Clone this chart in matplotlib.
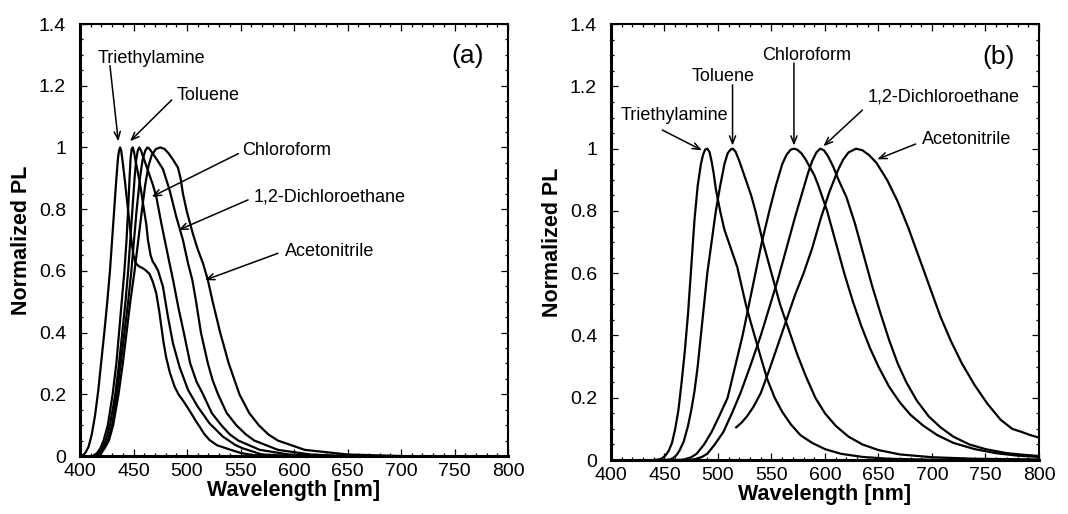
import matplotlib
matplotlib.use("Agg")
import matplotlib.pyplot as plt
from matplotlib.ticker import MultipleLocator, FuncFormatter

plt.rcParams['font.family'] = ['Liberation Sans', 'DejaVu Sans']

solvents = ["Triethylamine", "Toluene", "Chloroform", "1,2-Dichloroethane", "Acetonitrile"]

# ---- panel (a) ----
wl_a_tea = [402, 405, 408, 411, 414, 417, 420, 423, 425.5, 428, 430, 432, 434, 435.5, 436.5, 437.5, 438.5, 440,
            442, 444.8, 448, 450, 452, 455, 459, 462, 465, 468, 471.3, 474, 476, 478, 480.5, 484, 488.4, 492,
            496.2, 500, 504, 508, 511.8, 516, 521, 528, 536.5, 550, 561.5, 580]
pl_a_tea = [0, 0.01, 0.03, 0.07, 0.13, 0.21, 0.31, 0.41, 0.5, 0.6, 0.7, 0.8, 0.9, 0.965, 0.99, 1.0, 0.99, 0.95,
            0.89, 0.8, 0.7, 0.65, 0.625, 0.615, 0.608, 0.6, 0.59, 0.565, 0.527, 0.47, 0.42, 0.37, 0.32, 0.27,
            0.225, 0.2, 0.18, 0.16, 0.138, 0.115, 0.095, 0.072, 0.052, 0.035, 0.025, 0.01, 0.003, 0]

wl_a_tol = [412, 416, 419, 422, 426, 430.5, 434, 436.5, 439, 441.5, 443.5, 445, 446.3, 447.3, 448.3, 449.3, 450.5,
            452, 455.7, 458.8, 462, 463.5, 466, 468, 470, 473, 477.5, 482.2, 486.9, 493, 501, 510, 521, 533.5,
            545, 552, 570, 600]
pl_a_tol = [0, 0.01, 0.025, 0.05, 0.1, 0.2, 0.3, 0.4, 0.5, 0.6, 0.7, 0.8, 0.9, 0.965, 0.995, 1.0, 0.985,
            0.955, 0.89, 0.82, 0.75, 0.7, 0.65, 0.63, 0.62, 0.6, 0.549, 0.451, 0.365, 0.289, 0.214, 0.16, 0.106,
            0.063, 0.036, 0.025, 0.005, 0]

wl_a_chl = [414, 418, 421, 424, 428, 433, 436.5, 439.5, 442.5, 445, 447, 449, 451, 452.5, 454, 455.5, 457, 459,
            463, 468, 471.3, 476, 480.5, 483.7, 487, 492, 497, 503, 509, 515, 523, 532, 540, 548, 568, 595, 630]
pl_a_chl = [0, 0.01, 0.025, 0.05, 0.1, 0.2, 0.3, 0.4, 0.5, 0.6, 0.7, 0.8, 0.9, 0.96, 0.99, 1.0, 0.99, 0.97,
            0.93, 0.88, 0.84, 0.754, 0.678, 0.624, 0.57, 0.48, 0.4, 0.3, 0.24, 0.2, 0.14, 0.1, 0.07, 0.05, 0.02,
            0.005, 0]

wl_a_dce = [415, 419, 422, 426, 430, 434.5, 438, 441.5, 445, 448, 450.5, 453, 456, 458.5, 461, 463, 465, 468, 472,
            477.5, 483.7, 490, 496.2, 501, 505, 508.5, 513, 519.5, 524, 529, 537, 546, 555, 563, 585, 615, 650]
pl_a_dce = [0, 0.01, 0.025, 0.05, 0.1, 0.2, 0.3, 0.4, 0.5, 0.6, 0.7, 0.8, 0.9, 0.96, 0.99, 1.0, 0.995, 0.98,
            0.96, 0.93, 0.862, 0.775, 0.7, 0.624, 0.57, 0.5, 0.4, 0.3, 0.245, 0.2, 0.14, 0.1, 0.07, 0.05, 0.02,
            0.005, 0]

wl_a_acn = [416, 420, 423, 427, 431, 436, 440, 443.5, 447, 451, 454.5, 458, 461, 464, 467, 471, 475, 479, 483,
            487, 491.5, 494, 496.2, 500, 505.5, 510, 515, 519.5, 524, 531, 539, 549, 558, 567, 576, 585, 610,
            650, 700]
pl_a_acn = [0, 0.01, 0.025, 0.05, 0.1, 0.2, 0.3, 0.4, 0.5, 0.6, 0.7, 0.8, 0.88, 0.94, 0.975, 0.995, 1.0, 0.995,
            0.98, 0.96, 0.935, 0.9, 0.85, 0.79, 0.72, 0.67, 0.624, 0.57, 0.5, 0.4, 0.3, 0.2, 0.14, 0.1, 0.07,
            0.05, 0.02, 0.005, 0]

# ---- panel (b) ----
wl_b_tea = [440, 445, 448, 451, 454, 457, 460, 463, 466, 469, 472, 475, 478, 481, 484, 486, 488, 490, 492, 494,
            496, 498, 502, 506, 510, 514, 518, 522, 526, 530, 535, 540, 546, 553, 560, 568, 577, 588, 600, 615,
            635, 660, 700, 800]
pl_b_tea = [0, 0.002, 0.006, 0.015, 0.03, 0.055, 0.1, 0.16, 0.25, 0.35, 0.47, 0.62, 0.77, 0.88, 0.95, 0.98,
            0.997, 1.0, 0.99, 0.96, 0.92, 0.87, 0.8, 0.74, 0.7, 0.66, 0.62, 0.56, 0.5, 0.45, 0.39, 0.33, 0.26,
            0.2, 0.155, 0.115, 0.08, 0.055, 0.035, 0.02, 0.01, 0.004, 0.001, 0]

wl_b_tol = [450, 455, 458, 461, 464, 468, 472, 475, 478, 481, 484, 487, 490, 494, 498, 502, 506, 509, 512, 514,
            516.5, 520, 524, 527, 531, 535, 542, 550, 558, 566, 574, 582, 591, 600, 610, 622, 635, 650, 670, 700,
            740, 800]
pl_b_tol = [0, 0.002, 0.006, 0.015, 0.03, 0.06, 0.11, 0.16, 0.22, 0.3, 0.4, 0.5, 0.6, 0.7, 0.8, 0.88, 0.95,
            0.985, 0.998, 1.0, 0.99, 0.96, 0.92, 0.89, 0.85, 0.8, 0.7, 0.6, 0.5, 0.42, 0.34, 0.27, 0.2, 0.15,
            0.11, 0.075, 0.05, 0.032, 0.018, 0.009, 0.004, 0.002]

wl_b_chl = [460, 466, 470, 475, 480, 487, 494, 501, 509, 516, 523, 529, 535, 541, 548, 554, 560, 564, 568, 571,
            574, 578, 582, 586, 590, 594, 602, 610, 618, 626, 634, 642, 650, 660, 670, 680, 692, 705, 720, 740,
            760, 780, 800]
pl_b_chl = [0, 0.001, 0.003, 0.009, 0.02, 0.05, 0.09, 0.14, 0.2, 0.3, 0.4, 0.5, 0.6, 0.7, 0.8, 0.88, 0.95, 0.98,
            0.997, 1.0, 0.997, 0.985, 0.965, 0.94, 0.915, 0.88, 0.8, 0.7, 0.6, 0.51, 0.43, 0.36, 0.3, 0.235,
            0.185, 0.145, 0.11, 0.08, 0.055, 0.035, 0.022, 0.014, 0.01]

wl_b_dce = [470, 475, 480, 485, 490, 497, 505, 513, 521, 530, 540, 548, 556, 564, 572, 578, 584, 588, 592, 595.5,
            599, 603, 608, 612, 620, 628, 636, 644, 652, 660, 668, 676, 686, 697, 708, 720, 735, 750, 770, 785, 800]
pl_b_dce = [0, 0.001, 0.004, 0.01, 0.02, 0.05, 0.09, 0.15, 0.215, 0.3, 0.4, 0.49, 0.58, 0.68, 0.78, 0.85, 0.92,
            0.96, 0.988, 1.0, 0.995, 0.975, 0.94, 0.905, 0.845, 0.76, 0.66, 0.56, 0.47, 0.385, 0.31, 0.25, 0.19,
            0.14, 0.105, 0.075, 0.05, 0.035, 0.022, 0.017, 0.013]

wl_b_acn = [517, 522, 527, 533, 540, 548, 556, 564, 572, 580, 588, 596, 604, 612, 617, 622, 629, 635, 641, 648,
            658, 668, 678, 688, 698, 708, 718, 728, 740, 752, 764, 775, 784, 792, 800]
pl_b_acn = [0.105, 0.12, 0.14, 0.17, 0.215, 0.29, 0.37, 0.45, 0.53, 0.6, 0.68, 0.775, 0.86, 0.93, 0.965, 0.988,
            1.0, 0.995, 0.98, 0.955, 0.9, 0.83, 0.745, 0.65, 0.555, 0.46, 0.38, 0.31, 0.24, 0.18, 0.13, 0.1,
            0.09, 0.08, 0.072]

# label positions (text x, text y, arrow tail x, tail y, tip x, tip y)
labels_a = [(467, 1.289, 428, 1.265, 435.8, 1.02),
            (520, 1.167, 485.7, 1.154, 446.7, 1.02),
            (593, 0.99, 548, 0.98, 467, 0.84),
            (633.6, 0.84, 557, 0.83, 491.9, 0.732),
            (633.6, 0.662, 585, 0.657, 516.8, 0.57)]
labels_b = [(459.5, 1.108, 448, 1.06, 485, 0.995),
            (504.8, 1.233, 513.6, 1.205, 513.6, 1.01),
            (582.9, 1.30, 571, 1.275, 571, 1.01),
            (710.6, 1.165, 635, 1.124, 598.5, 1.008),
            (732, 1.028, 684.7, 1.015, 648.9, 0.966)]

fig = plt.figure(figsize=(10.68, 5.14), dpi=100)
ax_a = fig.add_axes([0.0749, 0.1128, 0.4008, 0.8405])
ax_b = fig.add_axes([0.5721, 0.105, 0.4007, 0.848])

curves_a = [(wl_a_tea, pl_a_tea), (wl_a_tol, pl_a_tol), (wl_a_chl, pl_a_chl), (wl_a_dce, pl_a_dce), (wl_a_acn, pl_a_acn)]
curves_b = [(wl_b_tea, pl_b_tea), (wl_b_tol, pl_b_tol), (wl_b_chl, pl_b_chl), (wl_b_dce, pl_b_dce), (wl_b_acn, pl_b_acn)]

for ax, curves, labels, tag in [(ax_a, curves_a, labels_a, "(a)"), (ax_b, curves_b, labels_b, "(b)")]:
    for wl, pl in curves:
        ax.plot(wl, pl, color="black", lw=1.6, solid_joinstyle="round")
    for name, (tx, ty, ax0, ay0, ax1, ay1) in zip(solvents, labels):
        ax.text(tx, ty, name, fontsize=13, ha="center", va="center")
        ax.annotate("", xy=(ax1, ay1), xytext=(ax0, ay0),
                    arrowprops=dict(arrowstyle="->,head_length=0.55,head_width=0.22", color="black", lw=1.1,
                                    shrinkA=0, shrinkB=0))
    ax.text(762, 1.295, tag, fontsize=19, ha="center", va="center")

    ax.set_xlim(400, 800)
    ax.set_ylim(0, 1.4)
    ax.xaxis.set_major_locator(MultipleLocator(50))
    ax.xaxis.set_minor_locator(MultipleLocator(10))
    ax.yaxis.set_major_locator(MultipleLocator(0.2))
    ax.yaxis.set_minor_locator(MultipleLocator(0.05))
    ax.yaxis.set_major_formatter(FuncFormatter(lambda v, p: "%g" % round(v, 2)))
    ax.tick_params(which="both", direction="in", top=True, right=True, labelsize=14, width=0.9)
    ax.tick_params(which="major", length=5)
    ax.tick_params(which="minor", length=2.5)
    ax.tick_params(axis="y", pad=10)
    ax.tick_params(axis="x", pad=5)
    for s in ax.spines.values():
        s.set_linewidth(1.5)
    ax.spines["bottom"].set_linewidth(2.2)
    ax.spines["left"].set_linewidth(2.2)
    ax.set_xlabel("Wavelength [nm]", fontsize=15.5, fontweight="bold", labelpad=0)
    ax.set_ylabel("Normalized PL", fontsize=15.5, fontweight="bold", labelpad=5)

fig.savefig("out.png", dpi=100)
